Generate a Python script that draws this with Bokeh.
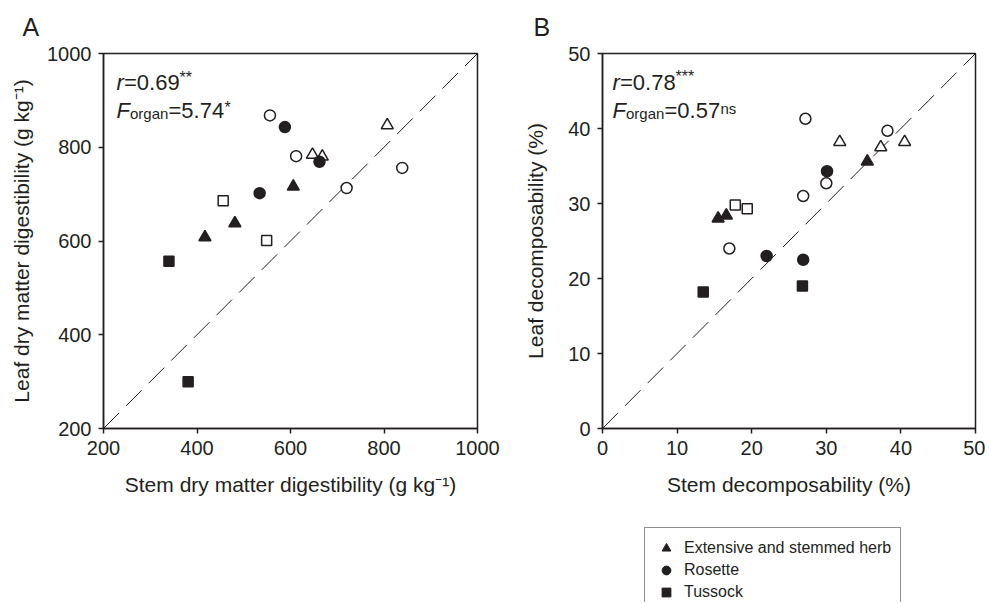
from bokeh.plotting import figure
from bokeh.layouts import row, column
from bokeh.models import Label, Legend, LegendItem, FixedTicker, Range1d
from bokeh.embed import file_html
from bokeh.resources import INLINE

# ---------------- Panel A: dry matter digestibility (g kg-1) ----------------
a_ticks = [200, 400, 600, 800, 1000]
a_diag = [200, 1000]
a_herb_fill_x = [606, 481, 417]
a_herb_fill_y = [716, 638, 608]
a_herb_open_x = [647, 668, 807]
a_herb_open_y = [784, 780, 847]
a_ros_fill_x = [588, 662, 534]
a_ros_fill_y = [843, 769, 702]
a_ros_open_x = [556, 612, 839, 720]
a_ros_open_y = [868, 781, 756, 713]
a_tus_fill_x = [340, 381]
a_tus_fill_y = [557, 300]
a_tus_open_x = [456, 549]
a_tus_open_y = [686, 601]

# ---------------- Panel B: decomposability (%) ----------------
b_ticks = [0, 10, 20, 30, 40, 50]
b_diag = [0, 50]
b_herb_fill_x = [35.5, 16.6, 15.5]
b_herb_fill_y = [35.6, 28.4, 28.0]
b_herb_open_x = [31.8, 40.5, 37.3]
b_herb_open_y = [38.2, 38.2, 37.5]
b_ros_fill_x = [30.1, 22.0, 26.9]
b_ros_fill_y = [34.3, 23.0, 22.5]
b_ros_open_x = [27.2, 38.2, 30.0, 26.9, 17.0]
b_ros_open_y = [41.3, 39.7, 32.7, 31.0, 24.0]
b_tus_fill_x = [26.8, 13.5]
b_tus_fill_y = [19.0, 18.2]
b_tus_open_x = [17.8, 19.4]
b_tus_open_y = [29.8, 29.3]

legend_labels = ["Extensive and stemmed herb", "Rosette", "Tussock"]
legend_markers = ["triangle", "circle", "square"]

INK = "#231f20"
FONT = "Liberation Sans"


def make_fig(letter, letter_offset, xr, yr, ticks, frame_w, ml, mr, xlabel, ylabel, ylab_standoff):
    p = figure(frame_width=frame_w, frame_height=375,
               x_range=Range1d(*xr), y_range=Range1d(*yr),
               min_border_left=ml, min_border_right=mr,
               min_border_top=53, min_border_bottom=92,
               output_backend="svg", toolbar_location=None, title=letter)
    p.title.align = "left"
    p.title.offset = letter_offset
    p.title.standoff = 22
    p.title.vertical_align = "top"
    p.title.text_font = FONT
    p.title.text_font_size = "25px"
    p.title.text_font_style = "normal"
    p.title.text_color = INK
    p.xgrid.visible = False
    p.ygrid.visible = False
    p.outline_line_color = INK
    p.outline_line_width = 1.5
    p.outline_line_alpha = 1
    p.background_fill_color = "white"
    p.border_fill_color = "white"
    for ax in (p.xaxis[0], p.yaxis[0]):
        ax.ticker = FixedTicker(ticks=ticks)
        ax.axis_line_color = INK
        ax.axis_line_width = 1.5
        ax.major_tick_line_color = INK
        ax.major_tick_line_width = 1.5
        ax.major_tick_out = 5
        ax.major_tick_in = 0
        ax.minor_tick_line_color = None
        ax.major_label_text_font = FONT
        ax.major_label_text_font_size = "20px"
        ax.major_label_text_color = INK
        ax.major_label_standoff = 7
        ax.axis_label_text_font = FONT
        ax.axis_label_text_font_size = "21px"
        ax.axis_label_text_font_style = "normal"
        ax.axis_label_text_color = INK
    p.xaxis.axis_label = xlabel
    p.yaxis.axis_label = ylabel
    p.xaxis.axis_label_standoff = 15
    p.yaxis.axis_label_standoff = ylab_standoff
    return p


def add_text(p, x, y, text, size, style="normal"):
    p.add_layout(Label(x=x, y=y, x_units="screen", y_units="screen", text=text,
                       text_font=FONT, text_font_size=size, text_font_style=style,
                       text_color=INK, text_baseline="alphabetic", text_align="left"))


def add_points(p, diag, data):
    p.line(diag, diag, line_color=INK, line_width=1, line_dash="22 10")
    for xs, ys, marker, size, filled in data:
        p.scatter(xs, ys, marker=marker, size=size,
                  fill_color=INK if filled else "white",
                  line_color=INK, line_width=1.5)


pA = make_fig("A", -81, (200, 1000), (200, 1000), a_ticks, 374, 103, 33,
              "Stem dry matter digestibility (g kg\u207b\u00b9)",
              "Leaf dry matter digestibility (g kg\u207b\u00b9)", 11)
add_points(pA, a_diag, [
    (a_herb_open_x, a_herb_open_y, "triangle", 12, False),
    (a_ros_open_x, a_ros_open_y, "circle", 11, False),
    (a_tus_open_x, a_tus_open_y, "square", 10, False),
    (a_herb_fill_x, a_herb_fill_y, "triangle", 12, True),
    (a_ros_fill_x, a_ros_fill_y, "circle", 11, True),
    (a_tus_fill_x, a_tus_fill_y, "square", 10, True),
])
add_text(pA, 13, 346, "r", "22px", "italic")
add_text(pA, 20.5, 346, "=0.69", "22px")
add_text(pA, 76, 351, "**", "16px")
add_text(pA, 13, 318, "F", "22px", "italic")
add_text(pA, 26.5, 315, "organ", "15px")
add_text(pA, 65, 318, "=5.74", "22px")
add_text(pA, 121, 321.5, "*", "16px")

pB = make_fig("B", -69, (0, 50), (0, 50), b_ticks, 373, 92, 10,
              "Stem decomposability (%)",
              "Leaf decomposability (%)", 18)
add_points(pB, b_diag, [
    (b_herb_open_x, b_herb_open_y, "triangle", 12, False),
    (b_ros_open_x, b_ros_open_y, "circle", 11, False),
    (b_tus_open_x, b_tus_open_y, "square", 10, False),
    (b_herb_fill_x, b_herb_fill_y, "triangle", 12, True),
    (b_ros_fill_x, b_ros_fill_y, "circle", 11, True),
    (b_tus_fill_x, b_tus_fill_y, "square", 10, True),
])
add_text(pB, 10, 346, "r", "22px", "italic")
add_text(pB, 17.5, 346, "=0.78", "22px")
add_text(pB, 73, 352, "***", "16px")
add_text(pB, 10, 318, "F", "22px", "italic")
add_text(pB, 23.5, 315, "organ", "15px")
add_text(pB, 62, 318, "=0.57", "22px")
add_text(pB, 118, 320, "ns", "15px")

# ---------------- Legend strip below the panels ----------------
pL = figure(width=985, height=82, x_range=Range1d(0, 1), y_range=Range1d(0, 1),
            x_axis_type=None, y_axis_type=None, min_border=0,
            output_backend="svg", toolbar_location=None)
pL.outline_line_color = None
pL.background_fill_color = "white"
pL.border_fill_color = "white"
items = []
for lab, mk in zip(legend_labels, legend_markers):
    # zero-size proxy glyph: only its legend swatch is visible
    r = pL.scatter(x=[0.5], y=[0.5], marker=mk, size=0, fill_color=INK, line_color=INK)
    items.append(LegendItem(label=lab, renderers=[r]))
legend = Legend(items=items, location=(644, -11))
legend.border_line_color = INK
legend.border_line_width = 1
legend.background_fill_alpha = 1
legend.padding = 9
legend.spacing = 0
legend.margin = 0
legend.glyph_width = 24
legend.glyph_height = 22
legend.label_height = 22
legend.label_standoff = 6
legend.label_text_font = FONT
legend.label_text_font_size = "16px"
legend.label_text_color = INK
pL.add_layout(legend)

layout = column(row(pA, pB), pL)
open("out.html", "w").write(file_html(layout, INLINE))
